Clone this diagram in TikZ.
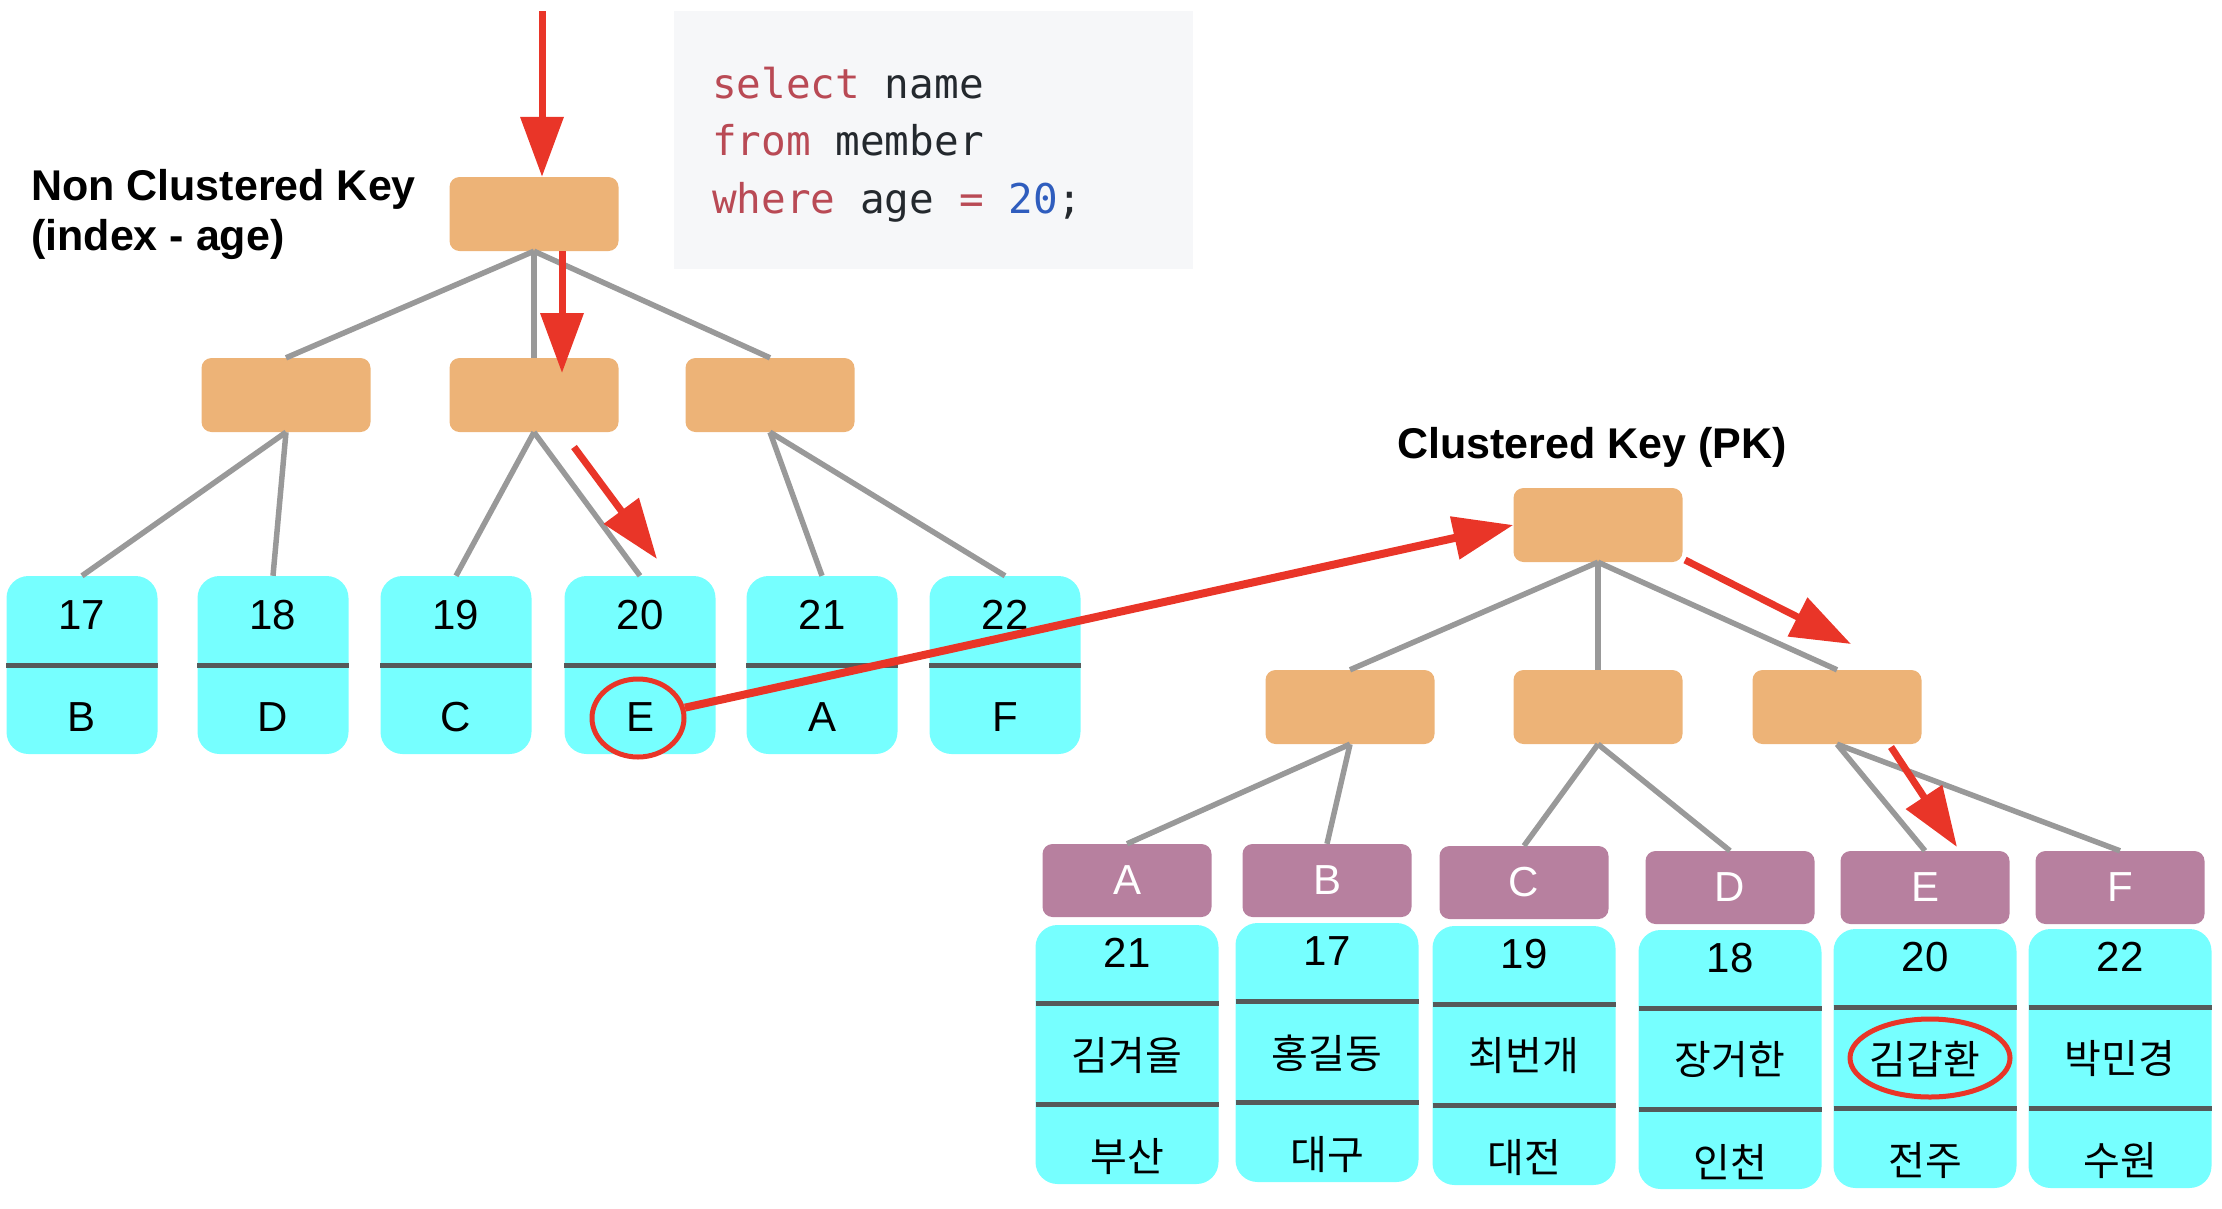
\documentclass[tikz,border=0pt]{standalone}
\usepackage{fontspec}
\usepackage{xcolor}
\usepackage{tikz}
\setmainfont{Liberation Sans}
\setmonofont{DejaVu Sans Mono}
\newfontfamily\krfont{Noto Sans CJK KR}
\usetikzlibrary{shapes,arrows,positioning,calc,arrows.meta}

\definecolor{boxorange}{RGB}{237,179,119}
\definecolor{leafcyan}{RGB}{118,255,255}
\definecolor{keypurple}{RGB}{183,128,159}
\definecolor{linegray}{RGB}{153,153,153}
\definecolor{divgray}{RGB}{85,90,90}
\definecolor{arrowred}{RGB}{233,53,40}
\definecolor{codebg}{RGB}{246,247,249}
\definecolor{sqlkw}{RGB}{185,74,85}
\definecolor{sqlnum}{RGB}{47,93,190}
\definecolor{sqltext}{RGB}{36,41,46}

\tikzset{
    treebox/.style={fill=boxorange, rounded corners=10pt, minimum width=169pt, minimum height=74pt, inner sep=0pt},
    leaf/.style={fill=leafcyan, rounded corners=22pt, minimum width=151pt, minimum height=178pt, inner sep=0pt},
    keybox/.style={fill=keypurple, rounded corners=10pt, minimum width=169pt, minimum height=73pt, inner sep=0pt, text=white, font=\fontsize{42}{50}\selectfont},
    record/.style={fill=leafcyan, rounded corners=22pt, minimum width=183pt, minimum height=259pt, inner sep=0pt},
    link/.style={draw=linegray, line width=5.5pt},
    divider/.style={draw=divgray, line width=5pt},
    walk/.style={draw=arrowred, line width=7pt, -{Triangle[length=60pt,width=42pt]}},
    hit/.style={draw=arrowred, line width=5pt, ellipse, inner sep=0pt},
    num/.style={font=\fontsize{42}{50}\selectfont, inner sep=0pt},
    hangul/.style={font=\krfont\fontsize{40}{48}\selectfont, inner sep=0pt},
    heading/.style={font=\bfseries\fontsize{43}{50}\selectfont, inner sep=0pt},
    sql/.style={font=\ttfamily\fontsize{41}{57}\selectfont, text=sqltext, anchor=base west, inner sep=0pt}
}

\begin{document}
\begin{tikzpicture}[x=1pt, y=-1pt]
    \useasboundingbox (0,0) rectangle (2222,1208);

    % query
    \node (codebox) [fill=codebg, minimum width=519pt, minimum height=258pt, inner sep=0pt] at (933.5,140) {};
    \node (sql1) [sql] at (712,98) {\textcolor{sqlkw}{select} name};
    \node (sql2) [sql] at (712,155) {\textcolor{sqlkw}{from} member};
    \node (sql3) [sql] at (712,213) {\textcolor{sqlkw}{where} age \textcolor{sqlkw}{=} \textcolor{sqlnum}{20};};

    % non clustered index
    \node (nclabel) [heading, align=left, anchor=west] at (31,214) {Non Clustered Key\\(index - age)};
    \node (ncroot) [treebox] at (534,214) {};
    \node (ncmid1) [treebox] at (286,395) {};
    \node (ncmid2) [treebox] at (534,395) {};
    \node (ncmid3) [treebox] at (770,395) {};
    \foreach \i/\x/\n/\l in {1/82/17/B,2/273/18/D,3/456/19/C,4/640/20/E,5/822/21/A,6/1005/22/F}{
        \node (leaf\i) [leaf] at (\x,665) {};
        \draw [divider] (leaf\i.west) -- (leaf\i.east);
        \node (age\i) [num] at (\x,615) {\n};
        \node (ref\i) [num] at (\x,717) {\l};
    }
    \draw [link] (ncroot.south) -- (ncmid1.north);
    \draw [link] (ncroot.south) -- (ncmid2.north);
    \draw [link] (ncroot.south) -- (ncmid3.north);
    \draw [link] (ncmid1.south) -- (leaf1.north);
    \draw [link] (ncmid1.south) -- (leaf2.north);
    \draw [link] (ncmid2.south) -- (leaf3.north);
    \draw [link] (ncmid2.south) -- (leaf4.north);
    \draw [link] (ncmid3.south) -- (leaf5.north);
    \draw [link] (ncmid3.south) -- (leaf6.north);

    % clustered index
    \node (clabel) [heading, anchor=base] at (1592,458) {Clustered Key (PK)};
    \node (croot) [treebox] at (1598,525) {};
    \node (cmid1) [treebox] at (1350,707) {};
    \node (cmid2) [treebox] at (1598,707) {};
    \node (cmid3) [treebox] at (1837,707) {};
    \foreach \k/\x/\kt/\rt/\n/\nm/\c in {A/1127/844/925/21/김겨울/부산,B/1327/844/923/17/홍길동/대구,C/1524/846/926/19/최번개/대전,D/1730/851/930/18/장거한/인천,E/1925/851/929/20/김갑환/전주,F/2120/851/929/22/박민경/수원}{
        \node (key\k) [keybox] at (\x,\kt+36.5) {\k};
        \node (row\k) [record] at (\x,\rt+129.5) {};
        \draw [divider] (\x-91.5,\rt+78) -- (\x+91.5,\rt+78);
        \draw [divider] (\x-91.5,\rt+179) -- (\x+91.5,\rt+179);
        \node (rowage\k) [num] at (\x,\rt+28) {\n};
        \node (rowname\k) [hangul] at (\x,\rt+130) {\nm};
        \node (rowcity\k) [hangul] at (\x,\rt+232) {\c};
    }
    \draw [link] (croot.south) -- (cmid1.north);
    \draw [link] (croot.south) -- (cmid2.north);
    \draw [link] (croot.south) -- (cmid3.north);
    \draw [link] (cmid1.south) -- (keyA.north);
    \draw [link] (cmid1.south) -- (keyB.north);
    \draw [link] (cmid2.south) -- (keyC.north);
    \draw [link] (cmid2.south) -- (keyD.north);
    \draw [link] (cmid3.south) -- (keyE.north);
    \draw [link] (cmid3.south) -- (keyF.north);

    % search path
    \node (hitE) [hit, minimum width=92pt, minimum height=78pt] at (638,718) {};
    \node (hitname) [hit, minimum width=160pt, minimum height=78pt] at (1930,1058) {};
    \coordinate (entry) at (542,11);
    \coordinate (hop1a) at (562,251);
    \coordinate (hop1b) at (562,373);
    \coordinate (hop2a) at (574,447);
    \coordinate (hop2b) at (657,559);
    \coordinate (hop3a) at (1685,560);
    \coordinate (hop3b) at (1851,644);
    \coordinate (hop4a) at (1891,747);
    \coordinate (hop4b) at (1957,847);
    \draw [walk] (entry) -- (entry |- ncroot.north);
    \draw [walk] (hop1a) -- (hop1b);
    \draw [walk] (hop2a) -- (hop2b);
    \draw [walk, line width=8pt] (hitE) -- (croot.west);
    \draw [walk] (hop3a) -- (hop3b);
    \draw [walk] (hop4a) -- (hop4b);
\end{tikzpicture}
\end{document}
